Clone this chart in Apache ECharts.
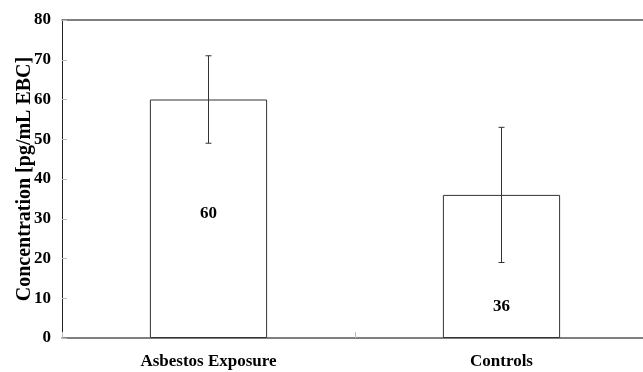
<!DOCTYPE html>
<html>
<head>
<meta charset="utf-8">
<script src="https://cdn.jsdelivr.net/npm/echarts@6/dist/echarts.min.js"></script>
<style>
  html, body { margin: 0; padding: 0; background: #fff; }
  #chart { width: 643px; height: 372px; }
</style>
</head>
<body>
<div id="chart"></div>
<script>
// Group names and mean concentrations with their error ranges
var categories = ['Asbestos Exposure', 'Controls'];
var means = [60, 36];
var errLow = [49, 19];
var errHigh = [71, 53];
// Where each value label sits inside its bar (fraction of bar height from top)
var labelDepth = ['48%', '78%'];

var serif = '"Liberation Serif", "Times New Roman", serif';

var chart = echarts.init(document.getElementById('chart'), null, { renderer: 'canvas' });

var barData = means.map(function (v, i) {
  return {
    value: v,
    label: { position: ['50%', labelDepth[i]] }
  };
});

var errData = categories.map(function (c, i) {
  return [i, errLow[i], errHigh[i]];
});

chart.setOption({
  animation: false,
  backgroundColor: '#ffffff',
  // plot runs slightly past the right edge of the canvas
  grid: { left: 62, top: 20, width: 586, height: 318, outerBoundsMode: 'none', containLabel: false },
  xAxis: [{
    type: 'category',
    data: categories,
    axisLine: { lineStyle: { color: '#555', width: 1.5 } },
    axisTick: { show: true, inside: true, length: 6, lineStyle: { color: '#bbb' } },
    axisLabel: {
      color: '#000', fontFamily: serif, fontWeight: 'bold', fontSize: 17, margin: 15
    }
  }, {
    type: 'category',
    position: 'top',
    data: categories,
    axisLine: { show: true, lineStyle: { color: '#555', width: 1.5 } },
    axisTick: { show: false },
    axisLabel: { show: false }
  }],
  yAxis: {
    type: 'value',
    min: 0, max: 80, interval: 10,
    name: 'Concentration [pg/mL EBC]',
    nameLocation: 'middle',
    nameGap: 27,
    nameMoveOverlap: false,
    nameTextStyle: { color: '#000', fontFamily: serif, fontWeight: 'bold', fontSize: 20 },
    axisLine: { show: true, lineStyle: { color: '#222', width: 1 } },
    axisTick: { show: true, inside: true, length: 5, lineStyle: { color: '#bbb' } },
    axisLabel: { color: '#000', fontFamily: serif, fontWeight: 'bold', fontSize: 17, margin: 11 },
    splitLine: { show: false }
  },
  series: [{
    type: 'bar',
    data: barData,
    barWidth: '40%',
    itemStyle: { color: '#fff', borderColor: '#333', borderWidth: 1 },
    label: {
      show: true,
      color: '#000',
      fontFamily: serif,
      fontWeight: 'bold',
      fontSize: 17,
      align: 'center',
      verticalAlign: 'middle'
    },
    z: 2
  }, {
    type: 'custom',
    data: errData,
    z: 3,
    renderItem: function (params, api) {
      var x = api.value(0);
      var lo = api.coord([x, api.value(1)]);
      var hi = api.coord([x, api.value(2)]);
      var cap = 3;
      var style = { stroke: '#333', lineWidth: 1 };
      return {
        type: 'group',
        children: [
          { type: 'line', shape: { x1: lo[0], y1: lo[1], x2: hi[0], y2: hi[1] }, style: style },
          { type: 'line', shape: { x1: lo[0] - cap, y1: lo[1], x2: lo[0] + cap, y2: lo[1] }, style: style },
          { type: 'line', shape: { x1: hi[0] - cap, y1: hi[1], x2: hi[0] + cap, y2: hi[1] }, style: style }
        ]
      };
    }
  }]
});
</script>
</body>
</html>
